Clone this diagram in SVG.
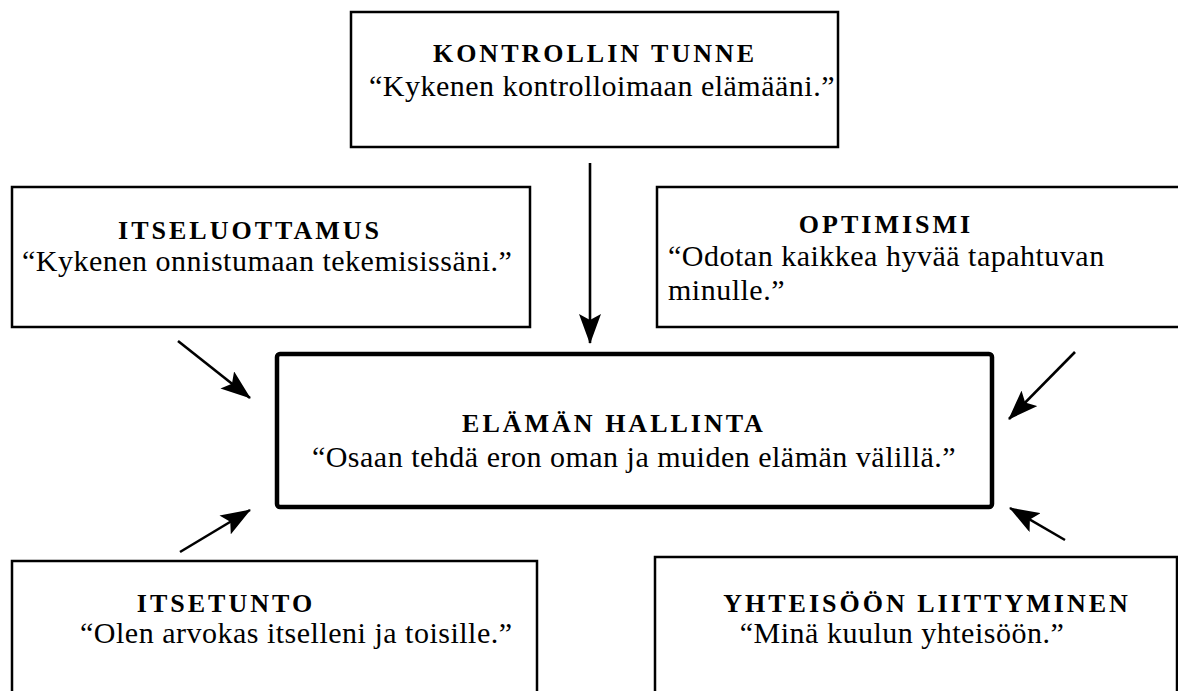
<svg xmlns="http://www.w3.org/2000/svg" width="1178" height="691" viewBox="0 0 1178 691">
<style>
.box{fill:#fff;stroke:#000;stroke-width:2.5}
.main{fill:#fff;stroke:#000;stroke-width:4.5}
.t{font-family:"Liberation Serif","Times New Roman",serif;font-weight:bold;font-size:26px;letter-spacing:3px;fill:#000}
.q{font-family:"Liberation Serif","Times New Roman",serif;font-size:30px;letter-spacing:0.5px;fill:#000}
.c{text-anchor:middle}
.arr{stroke:#000;stroke-width:2.6;fill:none}
</style>
<defs>
<marker id="ah" markerUnits="userSpaceOnUse" viewBox="0 0 30 22" refX="29" refY="11" markerWidth="30" markerHeight="22" orient="auto">
<path d="M0,0 L30,11 L0,22 L6,11 z" fill="#000"/>
</marker>
</defs>
<rect width="1178" height="691" fill="#fff"/>
<g id="kontrollin">
<rect class="box" x="351" y="12" width="487" height="135"/>
<text class="t c" x="595" y="62">KONTROLLIN TUNNE</text>
<text class="q c" x="602" y="96">“Kykenen kontrolloimaan elämääni.”</text>
</g>
<g id="itseluottamus">
<rect class="box" x="12" y="187" width="518" height="140"/>
<text class="t c" x="250" y="239">ITSELUOTTAMUS</text>
<text class="q" x="22" y="271">“Kykenen onnistumaan tekemisissäni.”</text>
</g>
<g id="optimismi">
<rect class="box" x="657" y="187" width="530" height="140"/>
<text class="t c" x="886" y="233">OPTIMISMI</text>
<text class="q" x="668" y="266">“Odotan kaikkea hyvää tapahtuvan</text>
<text class="q" x="668" y="300">minulle.”</text>
</g>
<g id="elaman-hallinta">
<rect class="main" x="277" y="354" width="715" height="153" rx="3"/>
<text class="t c" x="614" y="432">ELÄMÄN HALLINTA</text>
<text class="q c" x="634" y="467">“Osaan tehdä eron oman ja muiden elämän välillä.”</text>
</g>
<g id="itsetunto">
<rect class="box" x="12" y="561" width="525" height="140"/>
<text class="t c" x="226" y="612">ITSETUNTO</text>
<text class="q" x="80" y="643">“Olen arvokas itselleni ja toisille.”</text>
</g>
<g id="yhteisoon">
<rect class="box" x="655" y="557" width="522" height="145"/>
<text class="t c" x="927" y="612">YHTEISÖÖN LIITTYMINEN</text>
<text class="q c" x="902" y="643">“Minä kuulun yhteisöön.”</text>
</g>
<g id="connectors">
<line class="arr" x1="590" y1="163" x2="590" y2="343" marker-end="url(#ah)"/>
<line class="arr" x1="178" y1="341" x2="250" y2="398" marker-end="url(#ah)"/>
<line class="arr" x1="1075" y1="352" x2="1009" y2="419" marker-end="url(#ah)"/>
<line class="arr" x1="180" y1="552" x2="250" y2="510" marker-end="url(#ah)"/>
<line class="arr" x1="1065" y1="540" x2="1010" y2="508" marker-end="url(#ah)"/>
</g>
</svg>
